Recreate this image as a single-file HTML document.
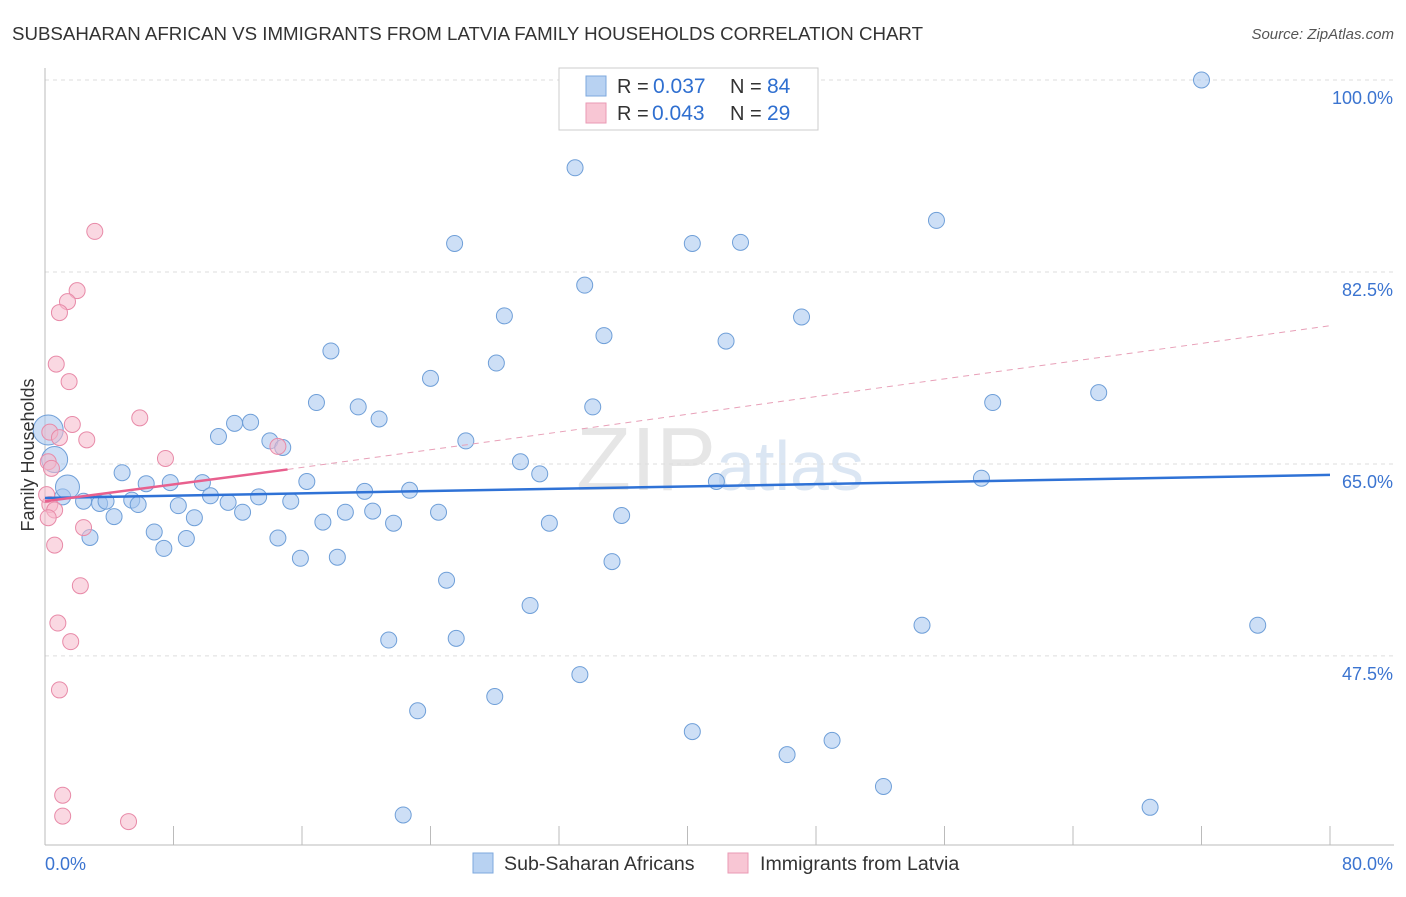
<!DOCTYPE html>
<html><head><meta charset="utf-8"><style>
body{margin:0;background:#fff;font-family:"Liberation Sans",sans-serif;}
svg text{font-family:"Liberation Sans",sans-serif;}
</style></head><body>
<svg id="chart" width="1406" height="892">
<text x="12" y="40" font-size="18.7" fill="#333">SUBSAHARAN AFRICAN VS IMMIGRANTS FROM LATVIA FAMILY HOUSEHOLDS CORRELATION CHART</text>
<text x="1394" y="39" font-size="15" fill="#555" font-style="italic" text-anchor="end">Source: ZipAtlas.com</text>
<text x="720" y="490" font-size="90" fill="#e6e6e6" text-anchor="middle" font-family="Liberation Serif">ZIP<tspan fill="#dbe6f3" font-family="Liberation Sans" font-size="70">atlas</tspan></text>
<g id="grid"></g><g id="axes"></g><g id="pts"></g><g id="trend"></g>
<text transform="translate(34,455) rotate(-90)" font-size="18" fill="#333" text-anchor="middle">Family Households</text>
<g>
<rect x="559" y="68" width="259" height="62" fill="#fff" stroke="#ccc"/>
<rect x="586" y="76" width="20" height="20" fill="#b8d2f2" stroke="#7ea8de"/>
<rect x="586" y="103" width="20" height="20" fill="#f8c6d4" stroke="#ea9ab4"/>
<text x="617" y="93" font-size="20" fill="#333">R =</text>
<text x="653" y="93" font-size="21" fill="#2f6fd0">0.037</text>
<text x="730" y="93" font-size="20" fill="#333">N =</text>
<text x="767" y="93" font-size="21" fill="#2f6fd0">84</text>
<text x="617" y="120" font-size="20" fill="#333">R =</text>
<text x="652" y="120" font-size="21" fill="#2f6fd0">0.043</text>
<text x="730" y="120" font-size="20" fill="#333">N =</text>
<text x="767" y="120" font-size="21" fill="#2f6fd0">29</text>
</g>
<g>
<rect x="473" y="853" width="20" height="20" fill="#b8d2f2" stroke="#7ea8de"/>
<text x="504" y="870" font-size="19.6" fill="#333">Sub-Saharan Africans</text>
<rect x="728" y="853" width="20" height="20" fill="#f8c6d4" stroke="#ea9ab4"/>
<text x="760" y="870" font-size="19.6" fill="#333">Immigrants from Latvia</text>
</g>
</svg>
<script>
const blueX=[72,33,55.5,25.5,40.3,43.3,33.6,28.6,47.1,34.8,42.4,17.8,28.1,24,65.6,59,16.9,19.5,34.1,20.8,11.8,12.8,10.8,14,14.8,26.2,29.6,30.8,4.8,6.3,7.8,9.8,16.3,41.8,58.3,19.9,22.7,10.3,11.4,13.3,15.3,1.1,2.4,3.4,3.8,5.4,5.8,8.3,12.3,18.7,20.4,24.5,4.3,9.3,17.3,21.7,31.4,35.9,6.8,2.8,8.8,14.5,7.4,15.9,18.2,35.3,25,30.2,54.6,75.5,21.4,25.6,33.3,28,23.2,40.3,49,46.2,52.2,68.8,22.3,0.2,0.6,1.4];
const blueY=[100,92,87.2,85.1,85.1,85.2,81.3,78.5,78.4,76.7,76.2,75.3,74.2,72.8,71.5,70.6,70.6,70.2,70.2,69.1,68.7,68.8,67.5,67.1,66.5,67.1,65.2,64.1,64.2,63.2,63.3,63.3,63.4,63.4,63.7,62.5,62.6,62.1,61.5,62,61.6,62,61.6,61.4,61.6,61.7,61.3,61.2,60.6,60.6,60.7,60.6,60.2,60.1,59.7,59.6,59.6,60.3,58.8,58.3,58.2,58.25,57.3,56.4,56.5,56.1,54.4,52.1,50.3,50.3,48.95,49.1,45.8,43.8,42.5,40.6,39.8,38.5,35.6,33.7,33,68.1,65.4,62.9];
const blueR=[8,8,8,8,8,8,8,8,8,8,8,8,8,8,8,8,8,8,8,8,8,8,8,8,8,8,8,8,8,8,8,8,8,8,8,8,8,8,8,8,8,8,8,8,8,8,8,8,8,8,8,8,8,8,8,8,8,8,8,8,8,8,8,8,8,8,8,8,8,8,8,8,8,8,8,8,8,8,8,8,8,15,13,12];
const pinkX=[3.1,2,1.4,0.9,0.7,1.5,1.7,5.9,0.3,2.6,0.9,7.5,14.5,0.2,0.4,0.3,0.6,0.2,2.4,0.6,2.2,0.8,1.6,0.9,1.1,1.1,5.2,0.1];
const pinkY=[86.2,80.8,79.8,78.8,74.1,72.5,68.6,69.2,67.9,67.2,67.4,65.5,66.6,65.2,64.6,61.3,60.8,60.1,59.2,57.6,53.9,50.5,48.8,44.4,34.8,32.9,32.4,62.2];
const yTicks=[100,82.5,65,47.5];
const xTickLabels=["0.0%","80.0%"];
const blueTrend=[[0,61.9],[80,64]];
const pinkTrend=[[0,61.6],[15.1,64.5]];
const pinkDash=[[15.1,64.5],[80,77.6]];
const X=v=>45+v*16.0625, Y=v=>80+(100-v)*10.97;
const NS="http://www.w3.org/2000/svg";
function mk(p,t,a){const e=document.createElementNS(NS,t);for(const k in a)e.setAttribute(k,a[k]);p.appendChild(e);return e;}
const grid=document.getElementById('grid'),axes=document.getElementById('axes'),pts=document.getElementById('pts'),tr=document.getElementById('trend');
yTicks.forEach(v=>{const l=mk(grid,'line',{x1:45,x2:1394,y1:Y(v),y2:Y(v),stroke:'#ddd','stroke-dasharray':'4,4'});


const t=mk(axes,'text',{x:1393,y:Y(v)+24,'font-size':18,fill:'#3b74d0','text-anchor':'end'});t.textContent=v.toFixed(1)+'%';

});
const ax=mk(axes,'line',{x1:45,x2:1394,y1:845,y2:845,stroke:'#bbb'});


const ay=mk(axes,'line',{x1:45,x2:45,y1:68,y2:845,stroke:'#bbb'});


for(let i=1;i<=10;i++){const t=mk(axes,'line',{x1:X(i*8),x2:X(i*8),y1:826,y2:845,stroke:'#bbb'});

}
[[0,'start'],[80,'end']].forEach((d,i)=>{const t=mk(axes,'text',{x:i?1393:45,y:870,'font-size':18,fill:'#3b74d0','text-anchor':d[1]});t.textContent=xTickLabels[i];

});
blueX.forEach((v,i)=>{const c=mk(pts,'circle',{cx:X(v),cy:Y(blueY[i]),r:blueR[i],fill:'rgba(164,196,238,0.55)',stroke:'#6f9fd8','stroke-width':1});

});
pinkX.forEach((v,i)=>{const c=mk(pts,'circle',{cx:X(v),cy:Y(pinkY[i]),r:8,fill:'rgba(246,184,202,0.55)',stroke:'#e88aa8','stroke-width':1});

});
const b=mk(tr,'line',{x1:X(blueTrend[0][0]),y1:Y(blueTrend[0][1]),x2:X(blueTrend[1][0]),y2:Y(blueTrend[1][1]),stroke:'#2f72d6','stroke-width':2.5});


const p=mk(tr,'line',{x1:X(pinkTrend[0][0]),y1:Y(pinkTrend[0][1]),x2:X(pinkTrend[1][0]),y2:Y(pinkTrend[1][1]),stroke:'#e8608e','stroke-width':2.5});


const pd=mk(tr,'line',{x1:X(pinkDash[0][0]),y1:Y(pinkDash[0][1]),x2:X(pinkDash[1][0]),y2:Y(pinkDash[1][1]),stroke:'#e8a0b8','stroke-width':1,'stroke-dasharray':'6,5'});


</script>
</body></html>
